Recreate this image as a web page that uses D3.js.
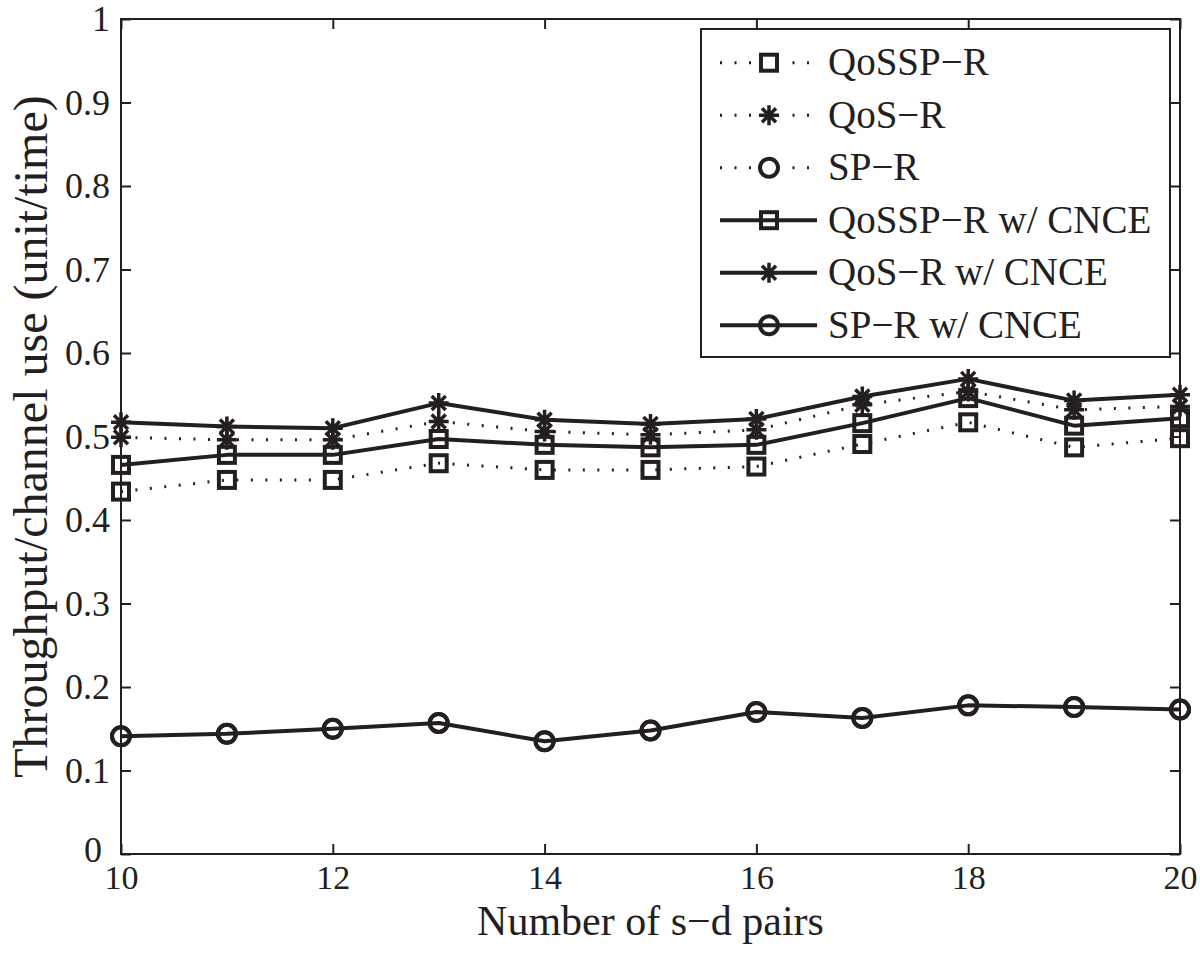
<!DOCTYPE html>
<html>
<head>
<meta charset="utf-8">
<script src="https://cdn.jsdelivr.net/npm/d3@7"></script>
<style>
  body { margin: 0; background: #fff; }
  svg text { font-family: "Liberation Serif", "Times New Roman", serif; fill: #231f20; }
</style>
</head>
<body>
<div class="chart"></div>
<script>
// number of s-d pairs
const pairs = [10, 11, 12, 13, 14, 15, 16, 17, 18, 19, 20];

// throughput per channel use
const qosspR     = [0.434, 0.448, 0.448, 0.468, 0.460, 0.460, 0.464, 0.491, 0.517, 0.487, 0.498];
const qosR       = [0.499, 0.496, 0.496, 0.518, 0.506, 0.502, 0.508, 0.538, 0.554, 0.532, 0.536];
const spR        = [0.141, 0.144, 0.150, 0.157, 0.135, 0.148, 0.170, 0.163, 0.178, 0.176, 0.173];
const qosspRCnce = [0.466, 0.478, 0.478, 0.497, 0.490, 0.487, 0.490, 0.516, 0.546, 0.513, 0.522];
const qosRCnce   = [0.517, 0.512, 0.510, 0.540, 0.520, 0.515, 0.521, 0.548, 0.569, 0.543, 0.550];
const spRCnce    = [0.141, 0.144, 0.150, 0.157, 0.135, 0.148, 0.170, 0.163, 0.178, 0.176, 0.173];

const seriesNames = ['QoSSP\u2212R', 'QoS\u2212R', 'SP\u2212R',
                     'QoSSP\u2212R w/ CNCE', 'QoS\u2212R w/ CNCE', 'SP\u2212R w/ CNCE'];
const seriesValues = [qosspR, qosR, spR, qosspRCnce, qosRCnce, spRCnce];
const seriesMarkers = ['square', 'star', 'circle', 'square', 'star', 'circle'];
const seriesDotted = [true, true, true, false, false, false];

const xTicks = [10, 12, 14, 16, 18, 20];
const yTicks = [0, 0.1, 0.2, 0.3, 0.4, 0.5, 0.6, 0.7, 0.8, 0.9, 1];

const ink = '#231f20';
const W = 1200, H = 954;
const margin = {top: 19, right: 20, bottom: 100, left: 121};

const svg = d3.select('.chart').append('svg')
    .attr('width', W)
    .attr('height', H);

const x = d3.scaleLinear().domain([10, 20]).range([margin.left, W - margin.right]);
const y = d3.scaleLinear().domain([0, 1]).range([H - margin.bottom, margin.top]);

//axes, MATLAB style: ticks pointing inwards on all four sides
svg.append('g')
    .attr('transform', 'translate(0,' + y(0) + ')')
    .call(d3.axisBottom(x).tickValues(xTicks).tickSize(-10).tickPadding(11).tickFormat(d3.format('d')))
    .call(g => g.selectAll('text').style('font-size', '34px'));
svg.append('g')
    .attr('transform', 'translate(0,' + y(1) + ')')
    .call(d3.axisTop(x).tickValues(xTicks).tickSize(-10).tickFormat(''));
svg.append('g')
    .attr('transform', 'translate(' + x(10) + ',0)')
    .call(d3.axisLeft(y).tickValues(yTicks).tickSize(-10).tickPadding(11)
        .tickFormat(d => d === 0 || d === 1 ? String(d) : d.toFixed(1)))
    .call(g => g.selectAll('text').style('font-size', '36px'))
    // keep the "0" clear of the "10" below it
    .call(g => g.selectAll('.tick text').filter(d => d === 0).attr('x', -19).attr('dy', '0.2em'));
svg.append('g')
    .attr('transform', 'translate(' + x(20) + ',0)')
    .call(d3.axisRight(y).tickValues(yTicks).tickSize(-10).tickFormat(''));

svg.selectAll('.domain').remove();
svg.selectAll('.tick line').attr('stroke', ink).attr('stroke-width', 2);
svg.selectAll('.tick text').attr('fill', ink).style('font-family', '"Liberation Serif", "Times New Roman", serif');

svg.append('rect')
    .attr('x', x(10)).attr('y', y(1))
    .attr('width', x(20) - x(10)).attr('height', y(0) - y(1))
    .attr('fill', 'none').attr('stroke', ink).attr('stroke-width', 2);

//axis titles
svg.append('text')
    .attr('x', (x(10) + x(20)) / 2)
    .attr('y', 935)
    .attr('text-anchor', 'middle')
    .style('font-size', '42px')
    .text('Number of s\u2212d pairs');

svg.append('text')
    .attr('transform', 'translate(47,' + (y(0) + y(1)) / 2 + ') rotate(-90)')
    .attr('text-anchor', 'middle')
    .style('font-size', '48px')
    .text('Throughput/channel use (unit/time)');

//marker drawing
function drawMarker(sel, type) {
    if (type === 'square') {
        sel.append('rect')
            .attr('x', -8).attr('y', -8).attr('width', 16).attr('height', 16)
            .attr('fill', 'none').attr('stroke', ink).attr('stroke-width', 4);
    } else if (type === 'circle') {
        sel.append('circle')
            .attr('r', 9)
            .attr('fill', 'none').attr('stroke', ink).attr('stroke-width', 4);
    } else {
        const r = 10, d = 7;
        sel.append('path')
            .attr('d', 'M' + (-r) + ',0L' + r + ',0M0,' + (-r) + 'L0,' + r +
                 'M' + (-d) + ',' + (-d) + 'L' + d + ',' + d + 'M' + (-d) + ',' + d + 'L' + d + ',' + (-d))
            .attr('fill', 'none').attr('stroke', ink).attr('stroke-width', 3.5);
    }
}

const line = d3.line()
    .x((d, i) => x(pairs[i]))
    .y(d => y(d));

seriesValues.forEach(function(vals, s) {
    const g = svg.append('g').attr('class', 'series');
    g.append('path')
        .datum(vals)
        .attr('d', line)
        .attr('fill', 'none')
        .attr('stroke', ink)
        .attr('stroke-width', seriesDotted[s] ? 3 : 4)
        .attr('stroke-dasharray', seriesDotted[s] ? '2,12.5' : null)
        .attr('stroke-linejoin', 'round');
    g.selectAll('g.pt')
        .data(vals)
        .enter().append('g')
            .attr('class', 'pt')
            .attr('transform', (d, i) => 'translate(' + x(pairs[i]) + ',' + y(d) + ')')
            .each(function() { drawMarker(d3.select(this), seriesMarkers[s]); });
});

//legend
const legend = svg.append('g').attr('class', 'legend');
legend.append('rect')
    .attr('x', 701).attr('y', 29).attr('width', 469).attr('height', 328)
    .attr('fill', '#fff').attr('stroke', ink).attr('stroke-width', 2);

const rows = legend.selectAll('g.row')
    .data(seriesNames)
    .enter().append('g')
        .attr('class', 'row')
        .attr('transform', (d, i) => 'translate(0,' + (62.7 + i * 52.5) + ')');

rows.each(function(name, s) {
    const row = d3.select(this);
    row.append('line')
        .attr('x1', 720).attr('x2', 817).attr('y1', 0).attr('y2', 0)
        .attr('stroke', ink)
        .attr('stroke-width', seriesDotted[s] ? 3 : 4)
        .attr('stroke-dasharray', seriesDotted[s] ? '2,12.5' : null);
    const m = row.append('g').attr('transform', 'translate(769,0)');
    if (seriesDotted[s]) {
        m.append('rect').attr('x', -12).attr('y', -12).attr('width', 24).attr('height', 24).attr('fill', '#fff');
    }
    drawMarker(m, seriesMarkers[s]);
    row.append('text')
        .attr('x', 828).attr('y', 12.5)
        .style('font-size', '39px')
        .text(name);
});
</script>
</body>
</html>
